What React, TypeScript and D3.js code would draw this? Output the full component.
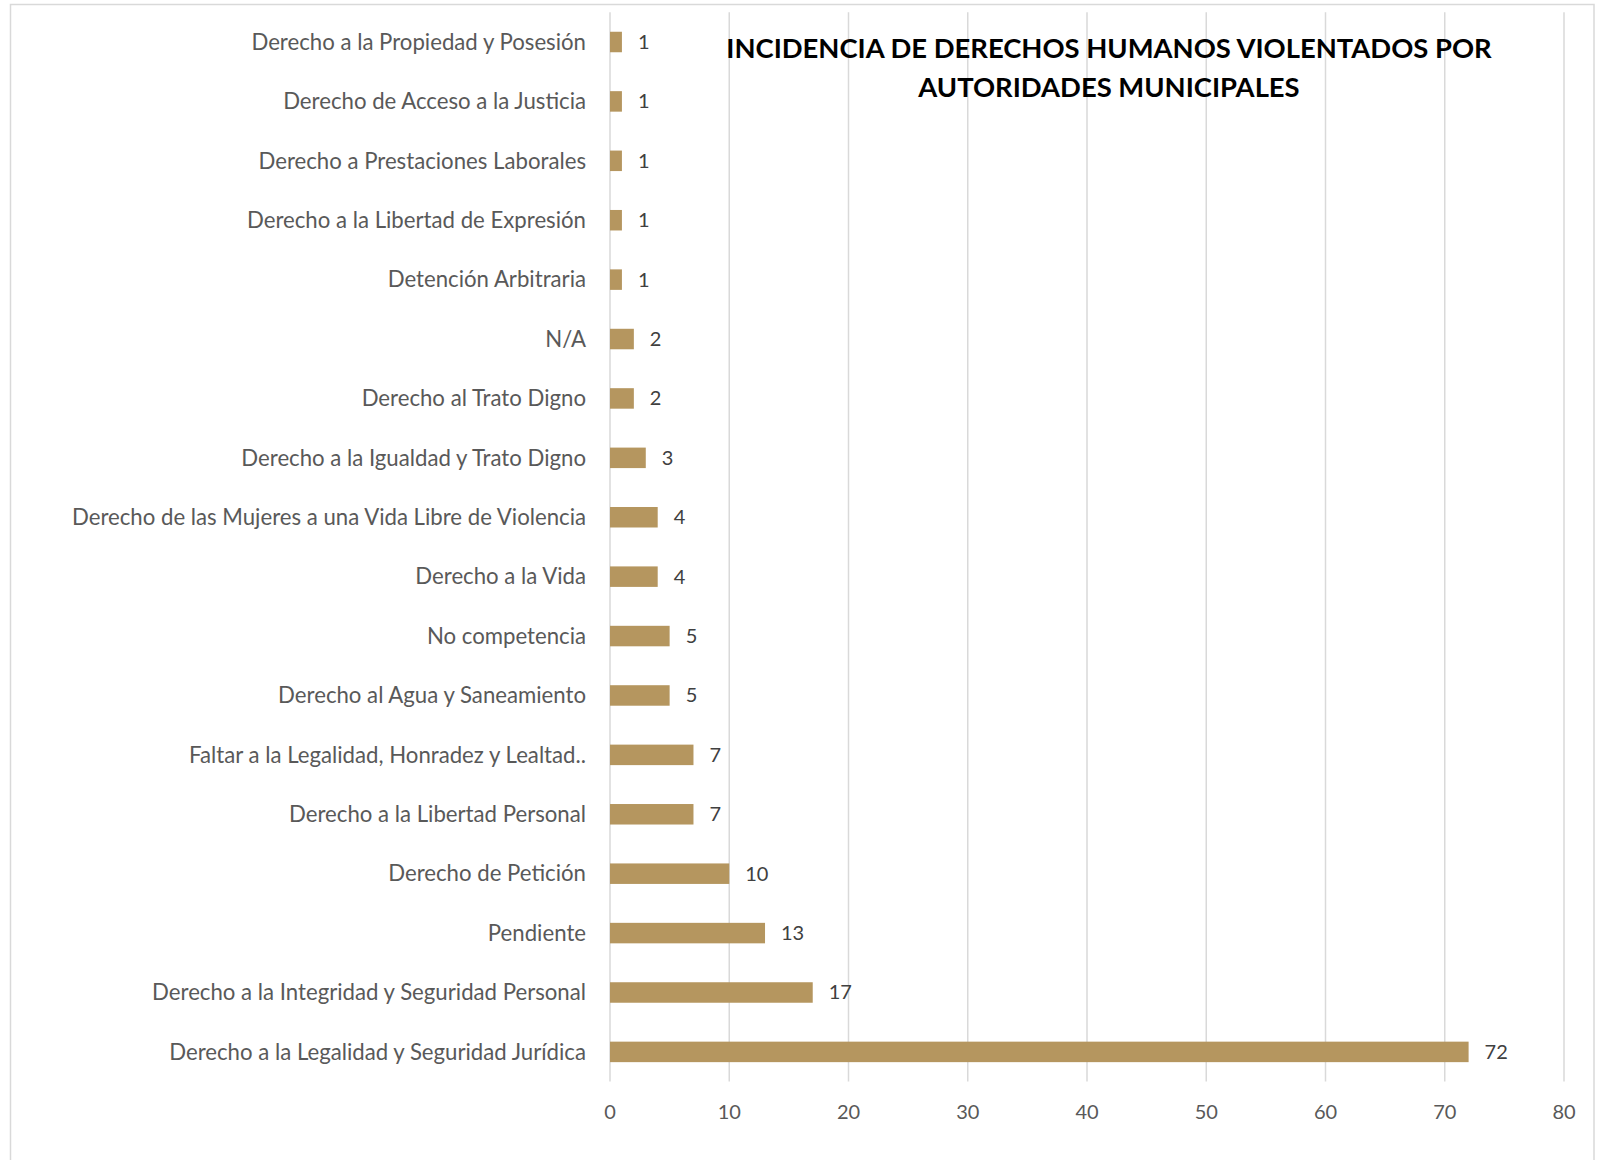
import React from "react";
import * as d3 from "d3";

const categories: string[] = [
  "Derecho a la Propiedad y Posesión",
  "Derecho de Acceso a la Justicia",
  "Derecho a Prestaciones Laborales",
  "Derecho a la Libertad de Expresión",
  "Detención Arbitraria",
  "N/A",
  "Derecho al Trato Digno",
  "Derecho a la Igualdad y Trato Digno",
  "Derecho de las Mujeres a una Vida Libre de Violencia",
  "Derecho a la Vida",
  "No competencia",
  "Derecho al Agua y Saneamiento",
  "Faltar a la Legalidad, Honradez y Lealtad..",
  "Derecho a la Libertad Personal",
  "Derecho de Petición",
  "Pendiente",
  "Derecho a la Integridad y Seguridad Personal",
  "Derecho a la Legalidad y Seguridad Jurídica",
];
const values: number[] = [1, 1, 1, 1, 1, 2, 2, 3, 4, 4, 5, 5, 7, 7, 10, 13, 17, 72];
const xTicks: number[] = [0, 10, 20, 30, 40, 50, 60, 70, 80];
const titleLines: string[] = [
  "INCIDENCIA DE DERECHOS HUMANOS VIOLENTADOS POR",
  "AUTORIDADES MUNICIPALES",
];

const W = 1603;
const H = 1160;
const FONT = "Lato, 'Open Sans', sans-serif";

export default function App() {
  const x = d3.scaleLinear().domain([0, 80]).range([610, 1564]);
  const y = d3
    .scaleBand<string>()
    .domain(categories)
    .range([12.3, 1081.6])
    .paddingInner(0.655)
    .paddingOuter(0.3275);
  const plotTop = 12.3;
  const plotBottom = 1081.6;

  return (
    <svg
      width={W}
      height={H}
      style={{ position: "absolute", left: 0, top: 0, background: "#fff" }}
    >
      <rect x={0} y={0} width={W} height={H} fill="#fff" />
      <rect x={10.5} y={4.5} width={1583.5} height={1200} fill="none" stroke="#d9d9d9" strokeWidth={1.5} />
      {xTicks.map((t) => (
        <line
          key={"g" + t}
          x1={x(t)}
          x2={x(t)}
          y1={plotTop}
          y2={plotBottom}
          stroke="#d9d9d9"
          strokeWidth={1.5}
        />
      ))}
      {categories.map((c, i) => (
        <rect
          key={"b" + c}
          x={x(0)}
          y={y(c)}
          width={x(values[i]) - x(0)}
          height={y.bandwidth()}
          fill="#b5965f"
        />
      ))}
      {categories.map((c, i) => (
        <text
          key={"v" + c}
          x={x(values[i]) + 16}
          y={(y(c) as number) + y.bandwidth() / 2}
          dy="0.35em"
          fontFamily={FONT}
          fontSize={20}
          fill="#404040"
        >
          {values[i]}
        </text>
      ))}
      {categories.map((c) => (
        <text
          key={"c" + c}
          x={586}
          y={(y(c) as number) + y.bandwidth() / 2}
          dy="0.35em"
          textAnchor="end"
          fontFamily={FONT}
          fontSize={22.2}
          fill="#595959"
        >
          {c}
        </text>
      ))}
      {xTicks.map((t) => (
        <text
          key={"t" + t}
          x={x(t)}
          y={1112}
          dy="0.35em"
          textAnchor="middle"
          fontFamily={FONT}
          fontSize={20}
          fill="#595959"
        >
          {t}
        </text>
      ))}
      {titleLines.map((l, i) => (
        <text
          key={"ttl" + i}
          x={1109}
          y={48 + i * 39}
          dy="0.35em"
          textAnchor="middle"
          fontFamily={FONT}
          fontWeight="bold"
          fontSize={27.4}
          fill="#000"
        >
          {l}
        </text>
      ))}
    </svg>
  );
}
